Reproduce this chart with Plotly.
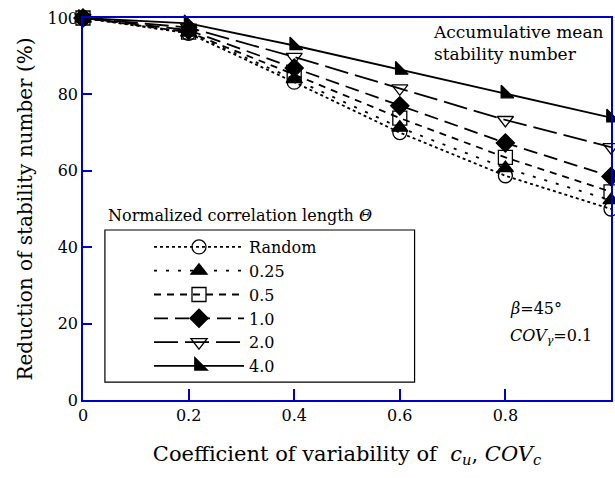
import plotly.graph_objects as go

cov_c = [0, 0.2, 0.4, 0.6, 0.8, 1.0]
series_names = ["Random", "0.25", "0.5", "1.0", "2.0", "4.0"]
y_random = [100, 96.0, 83.2, 70.0, 58.7, 50.0]
y_025 = [100, 96.2, 84.0, 71.3, 60.7, 52.3]
y_05 = [100, 96.3, 85.2, 73.8, 63.5, 54.5]
y_10 = [100, 96.8, 86.9, 77.0, 67.3, 58.5]
y_20 = [100, 97.5, 89.8, 81.6, 73.3, 66.2]
y_40 = [100, 98.6, 92.8, 86.4, 80.2, 73.9]
series_values = [y_random, y_025, y_05, y_10, y_20, y_40]

x_ticks = [0, 0.2, 0.4, 0.6, 0.8, 1]
x_ticklabels = ["0", "0.2", "0.4", "0.6", "0.8", "1"]
y_ticks = [0, 20, 40, 60, 80, 100]

styles = [
    dict(symbol="circle-open", dash="3px,3px", size=14),
    dict(symbol="triangle-up", dash="3px,9px", size=14),
    dict(symbol="square-open", dash="7px,6px", size=14),
    dict(symbol="diamond", dash="14px,7px", size=14),
    dict(symbol="triangle-down-open", dash="24px,7px", size=14),
    dict(symbol="triangle-sw", dash="solid", size=14),
]

FONT = "DejaVu Serif"

fig = go.Figure()
for name, vals, st in zip(series_names, series_values, styles):
    fig.add_trace(go.Scatter(
        x=cov_c, y=vals, name=name, mode="lines+markers",
        cliponaxis=False,
        line=dict(color="black", width=1.8, dash=st["dash"]),
        marker=dict(symbol=st["symbol"], size=st["size"], color="black",
                    line=dict(color="black", width=1.3)),
    ))

fig.update_layout(
    width=615, height=478,
    margin=dict(l=83, r=2, t=18, b=78),
    paper_bgcolor="white", plot_bgcolor="white",
    font=dict(family=FONT, color="black", size=16),
    showlegend=True,
    legend=dict(
        x=0.125, y=0.445, xanchor="left", yanchor="top",
        bgcolor="rgba(0,0,0,0)", borderwidth=0,
        font=dict(family=FONT, size=16, color="black"),
        itemwidth=90, tracegroupgap=0, itemsizing="trace",
    ),
    xaxis=dict(
        range=[0, 1], tickvals=x_ticks, ticktext=x_ticklabels,
        showgrid=False, zeroline=False,
        showline=True, linecolor="#0000cc", linewidth=1.5, mirror=True,
        ticks="inside", ticklen=11, tickcolor="#0000cc", tickwidth=1.5,
        tickfont=dict(family=FONT, size=16, color="black"),
        title=dict(text="Coefficient of variability of  <i>c</i><sub><i>u</i></sub>, <i>COV</i><sub><i>c</i></sub>",
                   font=dict(family=FONT, size=21, color="black"), standoff=22),
    ),
    yaxis=dict(
        range=[0, 100], tickvals=y_ticks,
        showgrid=False, zeroline=False,
        showline=True, linecolor="#0000cc", linewidth=1.5, mirror=True,
        ticks="inside", ticklen=9, tickcolor="#0000cc", tickwidth=1.5,
        tickfont=dict(family=FONT, size=16, color="black"),
        title=dict(text="Reduction of stability number (%)",
                   font=dict(family=FONT, size=20, color="black"), standoff=10),
    ),
    shapes=[dict(type="rect", xref="paper", yref="paper",
                 x0=0.0415, x1=0.628, y0=0.047, y1=0.445,
                 line=dict(color="black", width=1.2), fillcolor="rgba(0,0,0,0)", layer="below")],
    annotations=[
        dict(text="Normalized correlation length <i>Θ</i>", xref="paper", yref="paper",
             x=0.043, y=0.452, xanchor="left", yanchor="bottom", showarrow=False,
             font=dict(family=FONT, size=16, color="black")),
        dict(text="Accumulative mean<br>stability number", xref="paper", yref="paper",
             x=0.66, y=0.995, xanchor="left", yanchor="top", showarrow=False, align="left",
             font=dict(family=FONT, size=17, color="black")),
        dict(text="<i>β</i>=45°", xref="paper", yref="paper",
             x=0.805, y=0.24, xanchor="left", yanchor="middle", showarrow=False, align="left",
             font=dict(family=FONT, size=16, color="black")),
        dict(text="<i>COV</i><sub><i>γ</i></sub>=0.1", xref="paper", yref="paper",
             x=0.805, y=0.165, xanchor="left", yanchor="middle", showarrow=False, align="left",
             font=dict(family=FONT, size=16, color="black")),
    ],
)

fig.write_html("out.html")
